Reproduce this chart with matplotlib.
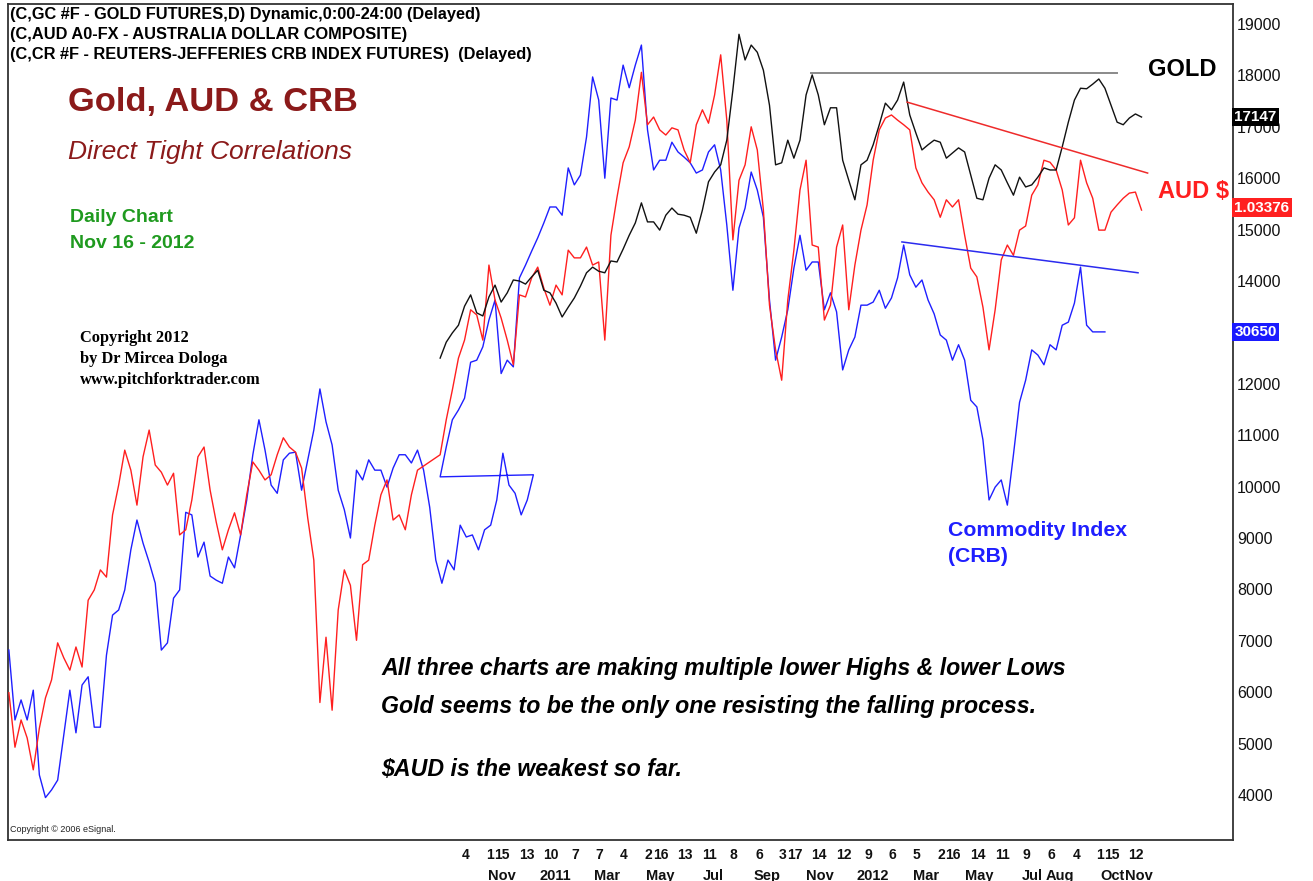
import matplotlib
matplotlib.use("Agg")
import matplotlib.pyplot as plt
import matplotlib.dates as mdates
import matplotlib.transforms as mtransforms
import pandas as pd

plt.rcParams['font.family'] = ['Liberation Sans', 'DejaVu Sans']

# ---------------- data (weekly readings, chart units) ----------------
START_EARLY = '2009-04-28'
START_MAIN = '2010-09-05'

CRB_EARLY = [6820, 5460, 5850, 5460, 6040, 4390, 3950, 4100, 4290, 5170,
             6040, 5210, 6140, 6300, 5320, 5320, 6720, 7500, 7600, 7990,
             8770, 9350, 8900, 8530, 8120, 6820, 6960, 7830, 7990, 9500,
             9450, 8630, 8920, 8260, 8180, 8120, 8630, 8420, 9060, 9740,
             10620, 11300, 10710, 10030, 9870, 10520, 10650, 10670, 9930, 10520,
             11100, 11900, 11260, 10810, 9930, 9550, 9000, 10320, 10130, 10520,
             10320, 10320, 9990, 10360, 10620, 10620, 10460, 10710, 10320, 9600,
             8570, 8120, 8570, 8380, 9250, 9020, 9060, 8770, 9160, 9250,
             9740, 10650, 10030, 9870, 9450, 9740, 10230]

CRB_MAIN = [10190, 10770, 11300, 11490, 11720, 12420, 12460, 12720, 13240, 13630,
            12200, 12460, 12330, 14060, 14310, 14580, 14840, 15130, 15440, 15440,
            15280, 16200, 15870, 16060, 16800, 17970, 17520, 16000, 17560, 17520,
            18200, 17760, 18200, 18590, 16940, 16160, 16350, 16350, 16700, 16510,
            16410, 16300, 16100, 16160, 16510, 16650, 16160, 15090, 13820, 15030,
            15420, 16120, 15770, 15240, 13630, 12460, 12910, 13440, 14250, 14890,
            14210, 14370, 14370, 13440, 13770, 13400, 12270, 12660, 12910, 13530,
            13530, 13590, 13820, 13470, 13670, 14060, 14700, 14120, 13880, 14020,
            13630, 13360, 12950, 12850, 12460, 12760, 12460, 11680, 11550, 10910,
            9740, 9990, 10130, 9640, 10620, 11640, 12070, 12660, 12560, 12370,
            12760, 12660, 13140, 13200, 13570, 14270, 13140, 13010, 13010, 13010]

AUD_EARLY = [5990, 4930, 5460, 5110, 4490, 5300, 5890, 6240, 6960, 6670,
             6430, 6880, 6490, 7790, 7990, 8380, 8240, 9450, 10030, 10710,
             10320, 9640, 10580, 11100, 10420, 10280, 10030, 10260, 9060, 9160,
             9740, 10580, 10770, 9930, 9310, 8770, 9160, 9490, 9060, 9840,
             10480, 10320, 10130, 10230, 10620, 10950, 10770, 10670, 10360, 9390,
             8570, 5800, 7070, 5650, 7600, 8380, 8080, 7010, 8480, 8570,
             9250, 9840, 10130, 9350, 9450, 9160, 9840, 10320]

AUD_MAIN = [10620, 11300, 11880, 12500, 12850, 13440, 13340, 12850, 14310, 13630,
            13280, 12850, 12370, 13730, 13690, 14060, 14270, 13860, 13530, 13920,
            13730, 14600, 14450, 14450, 14660, 14310, 14370, 12850, 14890, 15630,
            16300, 16610, 17130, 18060, 17040, 17190, 16940, 16840, 16980, 16940,
            16550, 16300, 17040, 17330, 17070, 17620, 18400, 17130, 14800, 15960,
            16260, 17000, 16550, 15380, 13530, 12660, 12070, 13630, 14600, 15770,
            16350, 14700, 14660, 13240, 13530, 14660, 15090, 13440, 14310, 14990,
            15480, 16350, 16940, 17170, 17230, 17130, 17040, 16940, 16200, 15910,
            15730, 15580, 15240, 15580, 15440, 15580, 14890, 14250, 14080, 13490,
            12660, 13440, 14410, 14700, 14500, 14990, 15070, 15670, 15870, 16350,
            16310, 16160, 15770, 15090, 15230, 16350, 15910, 15610, 14990, 14990,
            15340, 15480, 15610, 15710, 15730, 15380]

GOLD = [12500, 12810, 12990, 13140, 13510, 13730, 13380, 13320, 13690, 13920,
        13590, 13770, 14020, 14000, 13940, 14080, 14210, 13820, 13770, 13570,
        13300, 13490, 13670, 13900, 14160, 14270, 14190, 14160, 14390, 14370,
        14620, 14890, 15130, 15520, 15150, 15150, 14990, 15280, 15420, 15300,
        15280, 15240, 14930, 15380, 15930, 16120, 16260, 16740, 17720, 18800,
        18300, 18590, 18450, 18100, 17420, 16260, 16300, 16740, 16390, 16740,
        17620, 18010, 17620, 17040, 17370, 17370, 16350, 15960, 15580, 16260,
        16350, 16650, 17040, 17460, 17330, 17520, 17870, 17230, 16880, 16550,
        16650, 16740, 16700, 16390, 16490, 16590, 16510, 16060, 15610, 15580,
        16000, 16260, 16160, 15910, 15670, 16020, 15830, 15870, 16020, 16200,
        16160, 16160, 16610, 17090, 17520, 17750, 17740, 17830, 17930, 17750,
        17420, 17090, 17040, 17170, 17250, 17190]

# hand-drawn trend lines (dates, levels)
GOLD_LINE_DATES = ['2011-11-05', '2012-10-21']
GOLD_LINE_LEVELS = [18050, 18050]
AUD_LINE_DATES = ['2012-02-23', '2012-11-25']
AUD_LINE_LEVELS = [17480, 16100]
CRB_LINE_DATES = ['2012-02-17', '2012-11-14']
CRB_LINE_LEVELS = [14760, 14160]

# axis labels
DAY_TICK_DATES = ['2010-10-04', '2010-11-01', '2010-11-15', '2010-12-13', '2011-01-10',
                  '2011-02-07', '2011-03-07', '2011-04-04', '2011-05-02', '2011-05-16',
                  '2011-06-13', '2011-07-11', '2011-08-08', '2011-09-06', '2011-10-03',
                  '2011-10-17', '2011-11-14', '2011-12-12', '2012-01-09', '2012-02-06',
                  '2012-03-05', '2012-04-02', '2012-04-16', '2012-05-14', '2012-06-11',
                  '2012-07-09', '2012-08-06', '2012-09-04', '2012-10-01', '2012-10-15',
                  '2012-11-12']
MONTH_TICK_DATES = ['2010-11-15', '2011-01-15', '2011-03-16', '2011-05-16', '2011-07-16',
                    '2011-09-15', '2011-11-15', '2012-01-15', '2012-03-16', '2012-05-16',
                    '2012-07-16', '2012-08-16', '2012-10-16', '2012-11-15']
MONTH_LABELS = ['Nov', '2011', 'Mar', 'May', 'Jul', 'Sep', 'Nov', '2012', 'Mar', 'May',
                'Jul', 'Aug', 'Oct', 'Nov']
Y_TICKS = [4000, 5000, 6000, 7000, 8000, 9000, 10000, 11000, 12000, 14000,
           15000, 16000, 17000, 18000, 19000]

LAST_GOLD_LABEL, LAST_GOLD_LEVEL = '17147', 17190
LAST_AUD_LABEL, LAST_AUD_LEVEL = '1.03376', 15430
LAST_CRB_LABEL, LAST_CRB_LEVEL = '30650', 13010

# ---------------- figure ----------------
W, H = 1313, 881
fig = plt.figure(figsize=(W / 100, H / 100), dpi=100)
fig.patch.set_facecolor('white')
ax = fig.add_axes([8 / W, 1 - 840 / H, 1225 / W, 836 / H])

d_crb = list(pd.date_range(START_EARLY, periods=len(CRB_EARLY), freq='7D')) + \
        list(pd.date_range(START_MAIN, periods=len(CRB_MAIN), freq='7D'))
d_aud = list(pd.date_range(START_EARLY, periods=len(AUD_EARLY), freq='7D')) + \
        list(pd.date_range(START_MAIN, periods=len(AUD_MAIN), freq='7D'))
d_gold = pd.date_range(START_MAIN, periods=len(GOLD), freq='7D')

BLUE = '#1f1fff'
RED = '#ff1f1f'
ax.plot(mdates.date2num(d_crb), CRB_EARLY + CRB_MAIN, color=BLUE, lw=1.0, zorder=3)
ax.plot(mdates.date2num(d_aud), AUD_EARLY + AUD_MAIN, color=RED, lw=1.0, zorder=4)
ax.plot(mdates.date2num(d_gold), GOLD, color='#111111', lw=1.0, zorder=5)

ax.plot(mdates.date2num(pd.to_datetime(GOLD_LINE_DATES)), GOLD_LINE_LEVELS, color='#8a8a8a', lw=1.4, zorder=6)
ax.plot(mdates.date2num(pd.to_datetime(AUD_LINE_DATES)), AUD_LINE_LEVELS, color='#ee2b2b', lw=1.1, zorder=6)
ax.plot(mdates.date2num(pd.to_datetime(CRB_LINE_DATES)), CRB_LINE_LEVELS, color='#2b2bee', lw=1.1, zorder=6)

ax.set_xlim(mdates.date2num(pd.Timestamp('2009-04-27')), mdates.date2num(pd.Timestamp('2013-03-03')))
ax.set_ylim(3125, 19389)

# x ticks: day numbers (major) and month names (minor)
ax.xaxis.remove_overlapping_locs = False
dt = pd.to_datetime(DAY_TICK_DATES)
ax.set_xticks(mdates.date2num(dt))
ax.set_xticklabels([str(d.day) for d in dt])
ax.set_xticks(mdates.date2num(pd.to_datetime(MONTH_TICK_DATES)), minor=True)
ax.set_xticklabels(MONTH_LABELS, minor=True)
ax.tick_params(axis='x', which='major', length=0, pad=6, labelsize=10)
ax.tick_params(axis='x', which='minor', length=0, pad=21, labelsize=10.5)
for lbl in ax.get_xticklabels(which='both'):
    lbl.set_fontweight('bold')
    lbl.set_color('#111111')

ax.yaxis.tick_right()
ax.set_yticks(Y_TICKS)
ax.set_yticklabels([str(v) for v in Y_TICKS])
ax.tick_params(axis='y', length=0, pad=3, labelsize=11.5)
for lbl in ax.get_yticklabels():
    lbl.set_color('#111111')

for s in ax.spines.values():
    s.set_color('#333333')
    s.set_linewidth(1.3)

# last-value boxes on the price scale
bt = mtransforms.blended_transform_factory(ax.transAxes, ax.transData)
for txt, lvl, col in [(LAST_GOLD_LABEL, LAST_GOLD_LEVEL, 'black'),
                      (LAST_AUD_LABEL, LAST_AUD_LEVEL, '#ff2020'),
                      (LAST_CRB_LABEL, LAST_CRB_LEVEL, '#1a1aff')]:
    ax.text(1.0012, lvl, txt, transform=bt, ha='left', va='center', color='white',
            fontsize=11, fontweight='bold', clip_on=False, zorder=10,
            bbox=dict(facecolor=col, edgecolor='none', pad=1.6))


def fx(x, y):
    return x / W, 1 - y / H


# header
for i, t in enumerate(['(C,GC #F - GOLD FUTURES,D) Dynamic,0:00-24:00 (Delayed)',
                       '(C,AUD A0-FX - AUSTRALIA DOLLAR COMPOSITE)',
                       '(C,CR #F - REUTERS-JEFFERIES CRB INDEX FUTURES)  (Delayed)']):
    fig.text(*fx(10, 14 + i * 20.5), t, fontsize=11.8, fontweight='bold', va='center', ha='left')

fig.text(*fx(68, 103), 'Gold, AUD & CRB', fontsize=24.8, fontweight='bold', color='#8b1a1a', va='center')
fig.text(*fx(68, 152), 'Direct Tight Correlations', fontsize=19, fontstyle='italic', color='#8b1a1a', va='center')
fig.text(*fx(70, 218), 'Daily Chart', fontsize=14, fontweight='bold', color='#1f9a1f', va='center')
fig.text(*fx(70, 243), 'Nov 16 - 2012', fontsize=14, fontweight='bold', color='#1f9a1f', va='center')

for i, t in enumerate(['Copyright 2012', 'by Dr Mircea Dologa', 'www.pitchforktrader.com']):
    fig.text(*fx(80, 338 + i * 21), t, fontsize=11.8, fontweight='bold',
             family=['Liberation Serif', 'DejaVu Serif'], va='center')

fig.text(*fx(1148, 69), 'GOLD', fontsize=17, fontweight='bold', color='black', va='center')
fig.text(*fx(1158, 191), 'AUD $', fontsize=17, fontweight='bold', color='#ff1f1f', va='center')
fig.text(*fx(948, 530), 'Commodity Index', fontsize=15.3, fontweight='bold', color='#1f1fff', va='center')
fig.text(*fx(948, 557), '(CRB)', fontsize=15.3, fontweight='bold', color='#1f1fff', va='center')

fig.text(*fx(381, 668), 'All three charts are making multiple lower Highs & lower Lows',
         fontsize=16.7, fontweight='bold', fontstyle='italic', va='center')
fig.text(*fx(381, 707), 'Gold seems to be the only one resisting the falling process.',
         fontsize=16.7, fontweight='bold', fontstyle='italic', va='center')
fig.text(*fx(381, 770), '$AUD is the weakest so far.',
         fontsize=16.7, fontweight='bold', fontstyle='italic', va='center')

fig.text(*fx(10, 829), 'Copyright \u00a9 2006 eSignal.', fontsize=6.5, va='center', color='#222222')

fig.savefig('out.png', dpi=100, facecolor='white')
